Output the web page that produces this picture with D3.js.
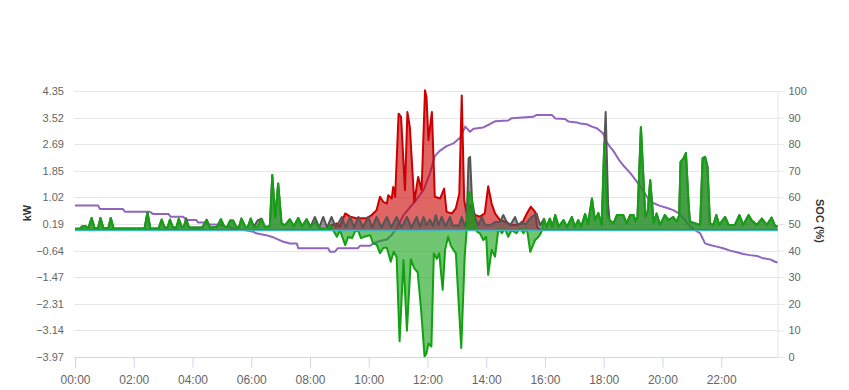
<!DOCTYPE html>
<html><head><meta charset="utf-8">
<script src="https://cdn.jsdelivr.net/npm/d3@7"></script>
<style>
html,body{margin:0;padding:0;background:#fff;}
svg{display:block;font-family:"Liberation Sans",Arial,Helvetica,sans-serif;}
</style></head><body>
<svg id="c" width="849" height="390"></svg>
<script>
// ---------- tick labels ----------
const kwTicks = [4.35, 3.52, 2.69, 1.85, 1.02, 0.19, -0.64, -1.47, -2.31, -3.14, -3.97];
const socTicks = [0, 10, 20, 30, 40, 50, 60, 70, 80, 90, 100];
const timeTicks = ["00:00","02:00","04:00","06:00","08:00","10:00","12:00","14:00","16:00","18:00","20:00","22:00"];
const timeRange = ["00:00","23:55"];

// ---------- series (time, kW) ----------
const gridImport = [
["00:00",0],["08:40",0],["08:44",0.15],["08:55",0.21],["09:01",0.1],["09:12",0.52],["09:22",0.42],["09:35",0.37],["09:55",0.37],
["10:06",0.47],["10:16",0.62],["10:23",1.04],["10:30",0.88],["10:37",0.83],["10:40",1.09],["10:47",0.99],["10:50",1.35],["10:54",1.04],
["11:01",3.64],["11:06",3.54],["11:14",1.25],["11:19",3.69],["11:24",3.22],["11:33",0.88],["11:41",1.66],["11:48",1.25],
["11:55",4.37],["11:58",4.16],["12:02",2.81],["12:09",3.69],["12:15",1.04],["12:26",0.99],["12:34",1.3],["12:39",0.57],["12:50",0.52],
["12:58",0.68],["13:05",1.14],["13:10",4.21],["13:15",0.94],["13:20",0.52],["13:27",0.78],["13:37",0.47],["13:47",0.42],["13:57",0.52],
["14:04",1.37],["14:11",0.83],["14:18",0.52],["14:28",0.31],["14:39",0.26],["14:49",0.16],["15:02",0.16],["15:13",0.21],["15:23",0.52],
["15:31",0.73],["15:40",0.57],["15:44",0.1],["15:50",0],["23:55",0]
];

const houseLoad = [
["00:00",0.04],["00:10",0.04],["00:15",0.12],["00:22",0.12],["00:27",0.05],["00:34",0.38],["00:40",0.06],["00:47",0.06],["00:52",0.38],
["00:58",0.06],["01:08",0.06],["01:13",0.38],["01:19",0.05],["02:22",0.05],["02:28",0.55],["02:34",0.05],["02:51",0.06],["02:57",0.33],
["03:03",0.08],["03:09",0.08],["03:14",0.33],["03:20",0.08],["03:27",0.08],["03:32",0.35],["03:38",0.1],["03:42",0.1],["03:47",0.37],
["03:53",0.08],["04:20",0.08],["04:29",0.33],["04:36",0.08],["04:50",0.1],["04:58",0.34],["05:05",0.1],["05:11",0.1],["05:17",0.3],
["05:23",0.3],["05:30",0.08],["05:35",0.1],["05:40",0.36],["05:48",0.1],["05:53",0.1],["05:59",0.36],["06:05",0.1],["06:13",0.3],
["06:21",0.36],["06:28",0.1],["06:38",0.12],["06:43",1.72],["06:49",0.4],["06:55",1.46],["07:02",0.2],["07:09",0.15],["07:19",0.34],
["07:27",0.12],["07:36",0.38],["07:44",0.12],["07:53",0.34],["08:01",0.1],
["08:10",0.41],["08:19",0.08],["08:27",0.41],["08:35",0.08],["08:44",0.41],["08:53",0.08],["09:05",0.41],["09:13",0.08],["09:22",0.41],
["09:30",0.08],["09:39",0.41],["09:48",0.08],["09:59",0.41],["10:07",0.08],["10:16",0.41],["10:26",0.08],["10:37",0.41],["10:46",0.08],
["10:57",0.41],["11:07",0.08],["11:18",0.41],["11:27",0.08],["11:38",0.41],["11:45",0.1],["11:52",0.41],["11:58",0.15],["12:05",0.33],
["12:11",0.12],["12:17",0.47],["12:23",0.15],["12:29",0.41],["12:37",0.12],["12:46",0.41],["12:52",0.12],["12:58",0.15],["13:04",0.12],
["13:10",0.41],["13:16",0.12],["13:20",0.3],["13:24",2.24],["13:27",2.29],["13:31",0.94],["13:37",0.41],["13:44",0.15],["13:51",0.41],
["13:58",0.15],["14:08",0.15],["14:18",0.25],["14:28",0.25],["14:35",0.47],["14:41",0.28],["14:49",0.15],["14:59",0.41],["15:05",0.15],
["15:12",0.25],["15:20",0.18],["15:33",0.41],["15:43",0.52],["15:50",0.15],
["15:58",0.35],["16:03",0.1],["16:10",0.36],["16:15",0.1],["16:21",0.47],["16:28",0.1],["16:38",0.31],["16:45",0.1],["16:55",0.41],
["17:01",0.1],["17:08",0.31],["17:14",0.1],["17:22",0.5],["17:28",0.2],["17:36",0.99],["17:42",0.31],["17:49",0.53],["17:56",0.16],
["18:01",2.6],["18:04",3.69],["18:09",0.8],["18:12",0.31],["18:20",0.21],["18:27",0.47],["18:40",0.47],["18:47",0.21],["18:54",0.47],
["19:01",0.47],["19:05",0.3],["19:09",0.4],["19:16",3.22],["19:25",0.41],["19:30",0.6],["19:35",1.56],["19:42",0.21],["19:48",0.52],
["19:55",0.16],["20:05",0.47],["20:12",0.31],["20:22",0.41],["20:29",0.26],["20:34",0.45],["20:37",2.13],["20:43",2.24],["20:48",2.41],
["20:53",0.94],["20:56",0.26],["21:07",0.21],["21:17",0.16],["21:22",2.24],["21:27",2.29],["21:32",1.98],["21:37",0.21],["21:44",0.16],
["21:50",0.47],["21:56",0.16],["22:08",0.41],["22:15",0.16],["22:28",0.16],["22:37",0.47],["22:45",0.16],["22:56",0.47],["23:02",0.31],
["23:13",0.16],["23:23",0.36],["23:33",0.16],["23:43",0.39],["23:50",0.13],["23:55",0.13]
];

const battery = [
["00:00",0.04],["00:10",0.04],["00:15",0.12],["00:22",0.12],["00:27",0.05],["00:34",0.38],["00:40",0.06],["00:47",0.06],["00:52",0.38],
["00:58",0.06],["01:08",0.06],["01:13",0.38],["01:19",0.05],["02:22",0.05],["02:28",0.55],["02:34",0.05],["02:51",0.06],["02:57",0.33],
["03:03",0.08],["03:09",0.08],["03:14",0.33],["03:20",0.08],["03:27",0.08],["03:32",0.35],["03:38",0.1],["03:42",0.1],["03:47",0.3],
["03:53",0.08],["04:20",0.08],["04:29",0.3],["04:36",0.08],["04:50",0.1],["04:58",0.34],["05:05",0.1],["05:11",0.1],["05:17",0.3],
["05:23",0.3],["05:30",0.08],["05:35",0.1],["05:40",0.36],["05:48",0.1],["05:53",0.1],["05:59",0.36],["06:05",0.1],["06:13",0.1],
["06:21",0.34],["06:28",0.1],["06:38",0.12],["06:43",1.72],["06:49",0.4],["06:55",1.46],["07:02",0.2],["07:09",0.15],["07:19",0.34],
["07:27",0.12],["07:36",0.38],["07:44",0.12],["07:53",0.34],["08:01",0.1],["08:10",0.25],["08:20",0.05],["08:30",0.05],["08:36",0.0],
["08:41",0.15],["08:47",0.0],["08:55",-0.21],["09:01",0.0],["09:12",-0.47],["09:18",-0.21],["09:26",-0.25],["09:32",-0.05],["09:38",0.0],
["09:44",-0.25],["09:52",-0.2],["10:03",-0.16],["10:09",-0.42],["10:16",-0.45],["10:23",-0.72],["10:30",-0.55],["10:37",-0.55],
["10:45",-0.99],["10:51",-0.68],["10:57",-0.85],["11:03",-3.48],["11:11",-0.94],["11:18",-3.15],["11:26",-0.91],["11:33",-1.2],
["11:40",-1.32],["11:47",-2.5],["11:54",-3.95],["11:58",-3.85],["12:02",-3.55],["12:08",-3.64],["12:13",-0.73],["12:19",-0.9],
["12:24",-0.73],["12:31",-1.87],["12:36",-0.62],["12:42",-0.21],["12:48",-0.5],["12:53",-0.62],["12:58",-0.73],["13:09",-3.69],
["13:16",-0.83],["13:20",0.0],["13:25",1.2],["13:30",1.04],["13:35",0.31],["13:41",-0.05],["13:47",-0.1],["13:54",-0.31],["14:00",-0.21],
["14:04",-1.4],["14:11",-0.62],["14:18",-0.83],["14:25",0.05],["14:32",-0.1],["14:38",0.05],["14:45",-0.21],["14:52",0.0],["15:02",-0.1],
["15:09",0.05],["15:16",-0.1],["15:23",0.05],["15:30",-0.68],["15:40",-0.31],["15:47",-0.21],["15:53",-0.05],
["15:58",0.35],["16:03",0.1],["16:10",0.36],["16:15",0.1],["16:21",0.47],["16:28",0.1],["16:38",0.31],["16:45",0.1],["16:55",0.41],
["17:01",0.1],["17:08",0.31],["17:14",0.1],["17:22",0.5],["17:28",0.2],["17:36",0.99],["17:42",0.31],["17:49",0.53],["17:56",0.16],
["18:01",2.7],["18:07",0.5],["18:12",0.31],["18:20",0.21],["18:27",0.47],["18:40",0.47],["18:47",0.21],["18:54",0.47],
["19:01",0.47],["19:05",0.26],["19:09",0.4],["19:16",3.22],["19:25",0.41],["19:30",0.6],["19:35",1.56],["19:42",0.21],["19:48",0.52],
["19:55",0.16],["20:05",0.47],["20:12",0.31],["20:22",0.41],["20:29",0.26],["20:34",0.45],["20:37",2.13],["20:43",2.24],["20:48",2.41],
["20:53",0.94],["20:56",0.26],["21:07",0.21],["21:17",0.16],["21:22",2.24],["21:27",2.29],["21:32",1.98],["21:37",0.21],["21:44",0.16],
["21:50",0.47],["21:56",0.16],["22:08",0.41],["22:15",0.16],["22:28",0.16],["22:37",0.47],["22:45",0.16],["22:56",0.47],["23:02",0.31],
["23:13",0.16],["23:23",0.36],["23:33",0.16],["23:43",0.39],["23:50",0.13],["23:55",0.13]
];

const pvPower = [["00:00",0],["23:55",0]];

// ---------- state of charge (time, %) ----------
const soc = [
["00:00",57],["00:47",57],["00:51",55.6],["01:38",55.6],["01:42",54.6],["02:33",54.6],["02:39",53.8],["03:11",53.8],["03:15",52.7],
["03:41",52.7],["03:48",51.5],["04:08",51.5],["04:11",50.6],["04:26",50.6],["04:30",49.9],["04:56",49.7],["05:09",49],["05:17",48.8],
["05:29",48],["05:43",47.8],["06:04",47.1],["06:10",46.5],["06:28",45.9],["06:45",45],["07:06",43.3],["07:19",42.7],["07:33",42.7],
["07:36",40.9],["08:37",40.9],["08:41",39.6],["08:51",39.6],["08:57",40.9],["09:38",40.9],["09:42",41.8],["10:03",41.8],["10:09",42.7],
["10:23",43.6],["10:37",44.2],["10:47",45.9],["10:57",48.4],["11:11",53.3],["11:24",56.2],["11:38",59.3],["11:52",62.7],["12:05",69],
["12:15",75.5],["12:25",77.5],["12:39",79.3],["12:53",80.3],["13:07",82.5],["13:17",86.6],["13:27",84.7],["13:34",85.8],["13:54",86.3],
["14:08",87.6],["14:18",88.6],["14:45",88.9],["14:52",89.8],["15:36",90.3],["15:43",91],["16:14",91],["16:21",89.7],["16:41",89.5],
["16:48",88.5],["17:05",88.2],["17:12",87.8],["17:25",87.5],["17:36",86.6],["17:46",86],["17:59",84],["18:06",80.8],["18:13",79],
["18:20",77.4],["18:33",73.6],["18:40",72],["18:54",69.2],["19:01",67.5],["19:14",64.3],["19:24",61.5],["19:32",59.2],["19:42",57.8],
["19:55",56.8],["20:10",56],["20:22",55.2],["20:32",54.2],["20:46",51.5],["20:56",49],["21:07",47.7],["21:17",46.5],["21:27",42.7],
["21:37",42.1],["21:51",41.5],["22:04",40.9],["22:18",40],["22:32",39.4],["22:45",38.7],["22:59",38.3],["23:13",38],["23:26",37.1],
["23:40",36.7],["23:50",35.8],["23:55",35.5]
];

// ---------- drawing ----------
const toMin = s => { const [h, m] = s.split(":"); return (+h) * 60 + (+m); };
const prep = arr => arr.map(([t, v]) => ({ t: toMin(t), v }));

const svg = d3.select("#c");
const L = 75, R = 777.5, T = 91, B = 357;

const x = d3.scaleLinear().domain(timeRange.map(toMin)).range([L, R]);
const yKw = d3.scaleLinear().domain([kwTicks[kwTicks.length - 1], kwTicks[0]]).range([B, T]);
const ySoc = d3.scaleLinear().domain([0, 100]).range([B, T]);

// gridlines
svg.append("g").selectAll("line").data(socTicks).join("line")
  .attr("x1", L - 1).attr("x2", R).attr("y1", d => Math.round(ySoc(d)) + 0.5).attr("y2", d => Math.round(ySoc(d)) + 0.5)
  .attr("stroke", "#e6e6e6").attr("stroke-width", 1);

// left axis labels
const gl = svg.append("g").attr("transform", `translate(${L - 11},0)`)
  .call(d3.axisLeft(yKw).tickValues(kwTicks).tickFormat(d3.format(".2f")).tickSize(0).tickPadding(0));
gl.select(".domain").remove();
gl.selectAll("text").attr("fill", "#666").attr("font-size", 11).attr("font-family", "Liberation Sans, Arial, sans-serif");

// right axis
const gr = svg.append("g").attr("transform", `translate(${R},0)`)
  .call(d3.axisRight(ySoc).tickValues(socTicks).tickFormat(d3.format("d")).tickSize(7).tickPadding(4));
gr.select(".domain").attr("stroke", "#e6e6e6");
gr.selectAll(".tick line").attr("stroke", "#e6e6e6");
gr.selectAll("text").attr("fill", "#666").attr("font-size", 11).attr("font-family", "Liberation Sans, Arial, sans-serif");

// bottom axis
const gb = svg.append("g").attr("transform", `translate(0,${B + 0.5})`)
  .call(d3.axisBottom(x).tickValues(timeTicks.map(toMin)).tickFormat((d, i) => timeTicks[i]).tickSize(10).tickPadding(8));
gb.select(".domain").attr("stroke", "#ccd6eb").attr("d", `M${L - 1},0H${R}`);
gb.selectAll(".tick line").attr("stroke", "#ccd6eb");
gb.selectAll("text").attr("fill", "#666").attr("font-size", 12).attr("font-family", "Liberation Sans, Arial, sans-serif");

// axis titles
svg.append("text").attr("transform", "translate(31,213) rotate(-90)").attr("text-anchor", "middle")
  .attr("font-size", 11).attr("font-weight", "bold").attr("fill", "#333").text("kW");
svg.append("text").attr("transform", "translate(816,221) rotate(90)").attr("text-anchor", "middle")
  .attr("font-size", 11).attr("font-weight", "bold").attr("fill", "#333").text("SOC (%)");

const plot = svg.append("g");
const y0 = yKw(0);

// SOC line (underneath)
plot.append("path").datum(prep(soc))
  .attr("d", d3.line().x(d => x(d.t)).y(d => ySoc(d.v)))
  .attr("fill", "none").attr("stroke", "#9164c0").attr("stroke-width", 2).attr("stroke-linejoin", "round");

function areaSeries(data, line, fill, op) {
  const d = prep(data);
  plot.append("path").datum(d)
    .attr("d", d3.area().x(p => x(p.t)).y0(y0).y1(p => yKw(p.v)))
    .attr("fill", fill).attr("fill-opacity", op);
  plot.append("path").datum(d)
    .attr("d", d3.line().x(p => x(p.t)).y(p => yKw(p.v)))
    .attr("fill", "none").attr("stroke", line).attr("stroke-width", 2).attr("stroke-linejoin", "round");
}
areaSeries(gridImport, "#cc0000", "#cc0000", 0.6);
areaSeries(houseLoad, "#555555", "#555555", 0.6);
areaSeries(battery, "#13a013", "#13a013", 0.6);

// PV line at baseline
plot.append("path").datum(prep(pvPower))
  .attr("d", d3.line().x(d => x(d.t)).y(d => yKw(d.v) + 0.5))
  .attr("fill", "none").attr("stroke", "#45b8bf").attr("stroke-width", 1.5);
</script>
</body></html>
